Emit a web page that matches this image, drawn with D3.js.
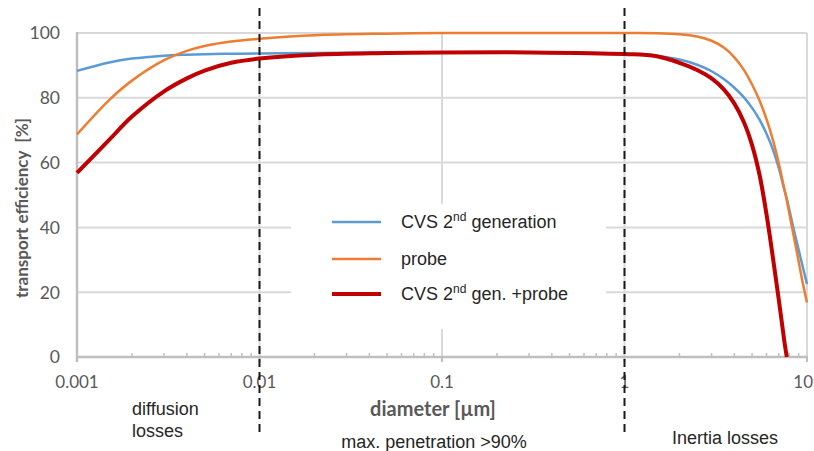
<!DOCTYPE html>
<html><head><meta charset="utf-8">
<script src="https://cdn.jsdelivr.net/npm/d3@7"></script>
<style>body{margin:0;background:#fff;}svg{display:block;}</style>
</head><body>
<svg id="chart" width="814" height="451"></svg>
<script>
const diameters = [0.001,0.0015,0.002,0.003,0.004,0.005,0.007,0.01,0.02,0.05,0.1,0.3,1,1.5,2,2.5,3,3.5,4,4.5,5,5.5,6,6.5,7,7.5,7.75,8,8.5,9,9.5,10];
const cvsValues   = [88.3,90.9,92.1,93.0,93.3,93.45,93.6,93.7,93.85,94.0,94.0,94.0,93.6,93.0,91.8,90.2,88.2,85.8,83.1,80.2,76.9,73.2,68.9,64.1,58.4,51.8,48.9,45.5,38.9,33.1,27.6,22.5];
const probeValues = [68.7,79.3,85.3,91.6,94.5,96.0,97.4,98.2,99.3,99.8,100,100,100,99.95,99.6,98.9,97.6,95.5,92.5,88.7,84.1,79.1,73.4,67.0,59.9,52.0,48.3,44.3,36.7,29.5,22.6,16.8];
const combValues  = [56.8,67.0,74.2,82.0,86.0,88.4,90.8,92.1,93.3,93.8,94.0,94.0,93.5,92.8,90.8,88.6,86.0,82.6,78.2,72.6,65.4,56.1,44.0,30.8,17.8,5.2,0,null,null,null,null,null];
const seriesNames = ["CVS 2nd generation","probe","CVS 2nd gen. +probe"];
const xTicks = [0.001,0.01,0.1,1,10];
const xTickLabels = ["0.001","0.01","0.1","1","10"];
const yTicks = [0,20,40,60,80,100];
const regionLines = [0.01,1];

const svg = d3.select("#chart");
const L=77,R=807,T=33,B=357;
const x = d3.scaleLog().domain([0.001,10]).range([L,R]);
const y = d3.scaleLinear().domain([0,100]).range([B,T]);
const numFont = "Lato, 'Open Sans', sans-serif";
const txtFont = "'Liberation Sans', Arial, sans-serif";

// horizontal gridlines
svg.append("g").selectAll("line").data(yTicks.filter(v=>v>0)).join("line")
  .attr("x1",L).attr("x2",R).attr("y1",d=>y(d)).attr("y2",d=>y(d))
  .attr("stroke","#d9d9d9").attr("stroke-width",2);
// vertical gridlines at decades
svg.append("g").selectAll("line").data(xTicks.slice(1)).join("line")
  .attr("x1",d=>x(d)).attr("x2",d=>x(d)).attr("y1",T).attr("y2",B)
  .attr("stroke","#d9d9d9").attr("stroke-width",2);

// minor ticks
const minors=[];
for(let e=-3;e<1;e++){for(let m=2;m<=9;m++){minors.push(m*Math.pow(10,e));}}
svg.append("g").selectAll("line").data(minors).join("line")
  .attr("x1",d=>x(d)).attr("x2",d=>x(d)).attr("y1",B-4).attr("y2",B)
  .attr("stroke","#bfbfbf").attr("stroke-width",1.5);

// axis lines
svg.append("line").attr("x1",L).attr("x2",L).attr("y1",T-1).attr("y2",B+5).attr("stroke","#bfbfbf").attr("stroke-width",2.5);
svg.append("line").attr("x1",L-1).attr("x2",R+1).attr("y1",B).attr("y2",B).attr("stroke","#bfbfbf").attr("stroke-width",2.5);
svg.append("g").selectAll("line").data(xTicks.slice(1)).join("line")
  .attr("x1",d=>x(d)).attr("x2",d=>x(d)).attr("y1",B).attr("y2",B+5)
  .attr("stroke","#bfbfbf").attr("stroke-width",2);

// y tick labels
svg.append("g").selectAll("text").data(yTicks).join("text")
  .attr("x",60).attr("y",d=>y(d)).attr("dy","0.36em").attr("text-anchor","end")
  .attr("font-family",numFont).attr("font-size",17.5).attr("fill","#595959")
  .text(d=>d);
// x tick labels
svg.append("g").selectAll("text").data(xTicks).join("text")
  .attr("x",(d,i)=>i===xTicks.length-1?813:x(d)).attr("y",388)
  .attr("text-anchor",(d,i)=>i===xTicks.length-1?"end":"middle")
  .attr("font-family",numFont).attr("font-size",17).attr("fill","#595959")
  .text((d,i)=>xTickLabels[i]);

// axis titles
svg.append("text").attr("transform","translate(28,208) rotate(-90)").attr("text-anchor","middle")
  .attr("font-family",numFont).attr("font-weight","bold").attr("font-size",17).attr("fill","#595959")
  .style("white-space","pre").text("transport efficiency  [%]");
svg.append("text").attr("x",433).attr("y",416).attr("text-anchor","middle")
  .attr("font-family",numFont).attr("font-weight","bold").attr("font-size",20).attr("fill","#595959")
  .text("diameter [µm]");

// series lines
const colors = ["#5b9bd5","#ed7d31","#c00000"];
const widths = [2.5,2.5,4];
const all = [cvsValues,probeValues,combValues];
const line = d3.line().defined(d=>d[1]!=null).x(d=>x(d[0])).y(d=>y(d[1])).curve(d3.curveCatmullRom.alpha(0.5));
all.forEach((vals,i)=>{
  svg.append("path").datum(diameters.map((d,j)=>[d,vals[j]]))
    .attr("d",line).attr("fill","none").attr("stroke",colors[i]).attr("stroke-width",widths[i])
    .attr("stroke-linejoin","round");
});

// legend box
const lg = svg.append("g");
lg.append("rect").attr("x",291).attr("y",204).attr("width",315).attr("height",125).attr("fill","#fff");
const rows=[222,259,294];
seriesNames.forEach((n,i)=>{
  lg.append("line").attr("x1",332).attr("x2",381).attr("y1",rows[i]).attr("y2",rows[i])
    .attr("stroke",colors[i]).attr("stroke-width",widths[i]);
  const t = lg.append("text").attr("x",401).attr("y",rows[i]).attr("dy","0.35em")
    .attr("font-family",txtFont).attr("font-size",18).attr("fill","#262626");
  const m = n.match(/^(.*?2)(nd)(.*)$/);
  if(m){
    t.append("tspan").text(m[1]);
    t.append("tspan").attr("font-size",12).attr("dy","-0.6em").text(m[2]);
    t.append("tspan").attr("dy","0.4em").text(m[3]);
  } else t.text(n);
});

// dashed region lines
svg.append("g").selectAll("line").data(regionLines).join("line")
  .attr("x1",d=>x(d)).attr("x2",d=>x(d)).attr("y1",8).attr("y2",437)
  .attr("stroke","#1a1a1a").attr("stroke-width",2).attr("stroke-dasharray","8,5");

// annotations
const ann = [["diffusion",132,415,"start"],["losses",132,437,"start"],["max. penetration >90%",434,448,"middle"],["Inertia losses",725,444,"middle"]];
svg.append("g").selectAll("text").data(ann).join("text")
  .attr("x",d=>d[1]).attr("y",d=>d[2]).attr("text-anchor",d=>d[3])
  .attr("font-family",txtFont).attr("font-size",18).attr("fill","#262626")
  .text(d=>d[0]);
</script>
</body></html>
